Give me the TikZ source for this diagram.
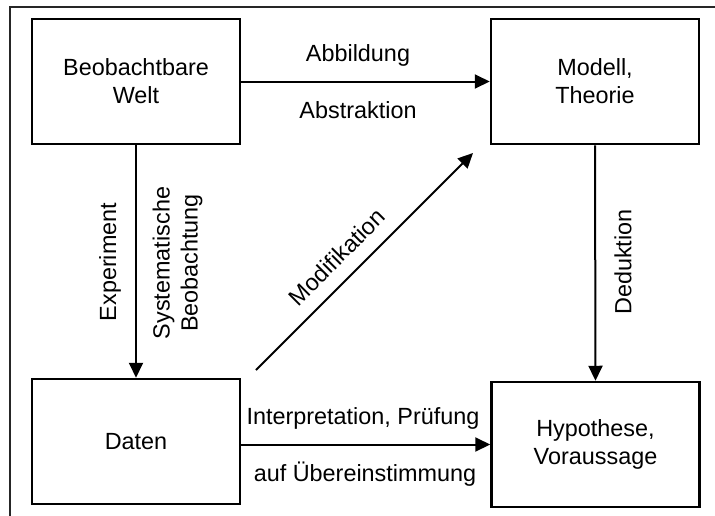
\documentclass[tikz,border=0pt]{standalone}
\usepackage{fontspec}
\setmainfont{Liberation Sans}
\usetikzlibrary{arrows.meta}
\newcommand{\diagfont}{\fontsize{23.4}{28}\selectfont}
\begin{document}
\begin{tikzpicture}[x=1pt,y=-1pt,
  box/.style={draw, line width=2.5pt, minimum width=208pt, minimum height=125pt,
    align=center, inner sep=0pt, font=\diagfont},
  link/.style={line width=2pt, -{Triangle[length=15pt,width=14pt]}},
  lbl/.style={font=\diagfont, align=center, inner sep=0pt}]
\useasboundingbox (0,0) rectangle (715,515);
% outer frame (runs past the right and bottom edges)
\begin{scope}
  \clip (0,0) rectangle (715,515);
  \draw[line width=2pt, black!85] (10,7) rectangle (740,540);
\end{scope}
% boxes
\node[box] (welt)   at (136,81.5)  {Beobachtbare\\Welt};
\node[box] (modell) at (595,81.5)  {Modell,\\Theorie};
\node[box] (daten)  at (136,441.5) {Daten};
\node[box] (hyp)    at (595.5,444.5) {Hypothese,\\Voraussage};
% connectors
\draw[link] (welt.east) -- (modell.west);
\draw[link] (welt.south) -- (daten.north);
\draw[link] (modell.south) -- (hyp.north);
\draw[link] (daten.east |- hyp.west) -- (hyp.west);
\coordinate (m0) at (256,370);
\coordinate (m1) at (473,153);
\draw[link] (m0) -- (m1);
% labels
\node[lbl] (abb) at (358,55)  {Abbildung};
\node[lbl] (abs) at (358,110) {Abstraktion};
\node[lbl] (int) at (363,418) {Interpretation, Prüfung};
\node[lbl] (ueb) at (365,474) {auf Übereinstimmung};
\node[lbl, rotate=90] (exp) at (110,262) {Experiment};
\node[lbl, rotate=90] (sys) at (177.5,263) {Systematische\\Beobachtung};
\node[lbl, rotate=90] (ded) at (623,262) {Deduktion};
\node[lbl, rotate=45] (mod) at (337,257) {Modifikation};
\end{tikzpicture}
\end{document}
